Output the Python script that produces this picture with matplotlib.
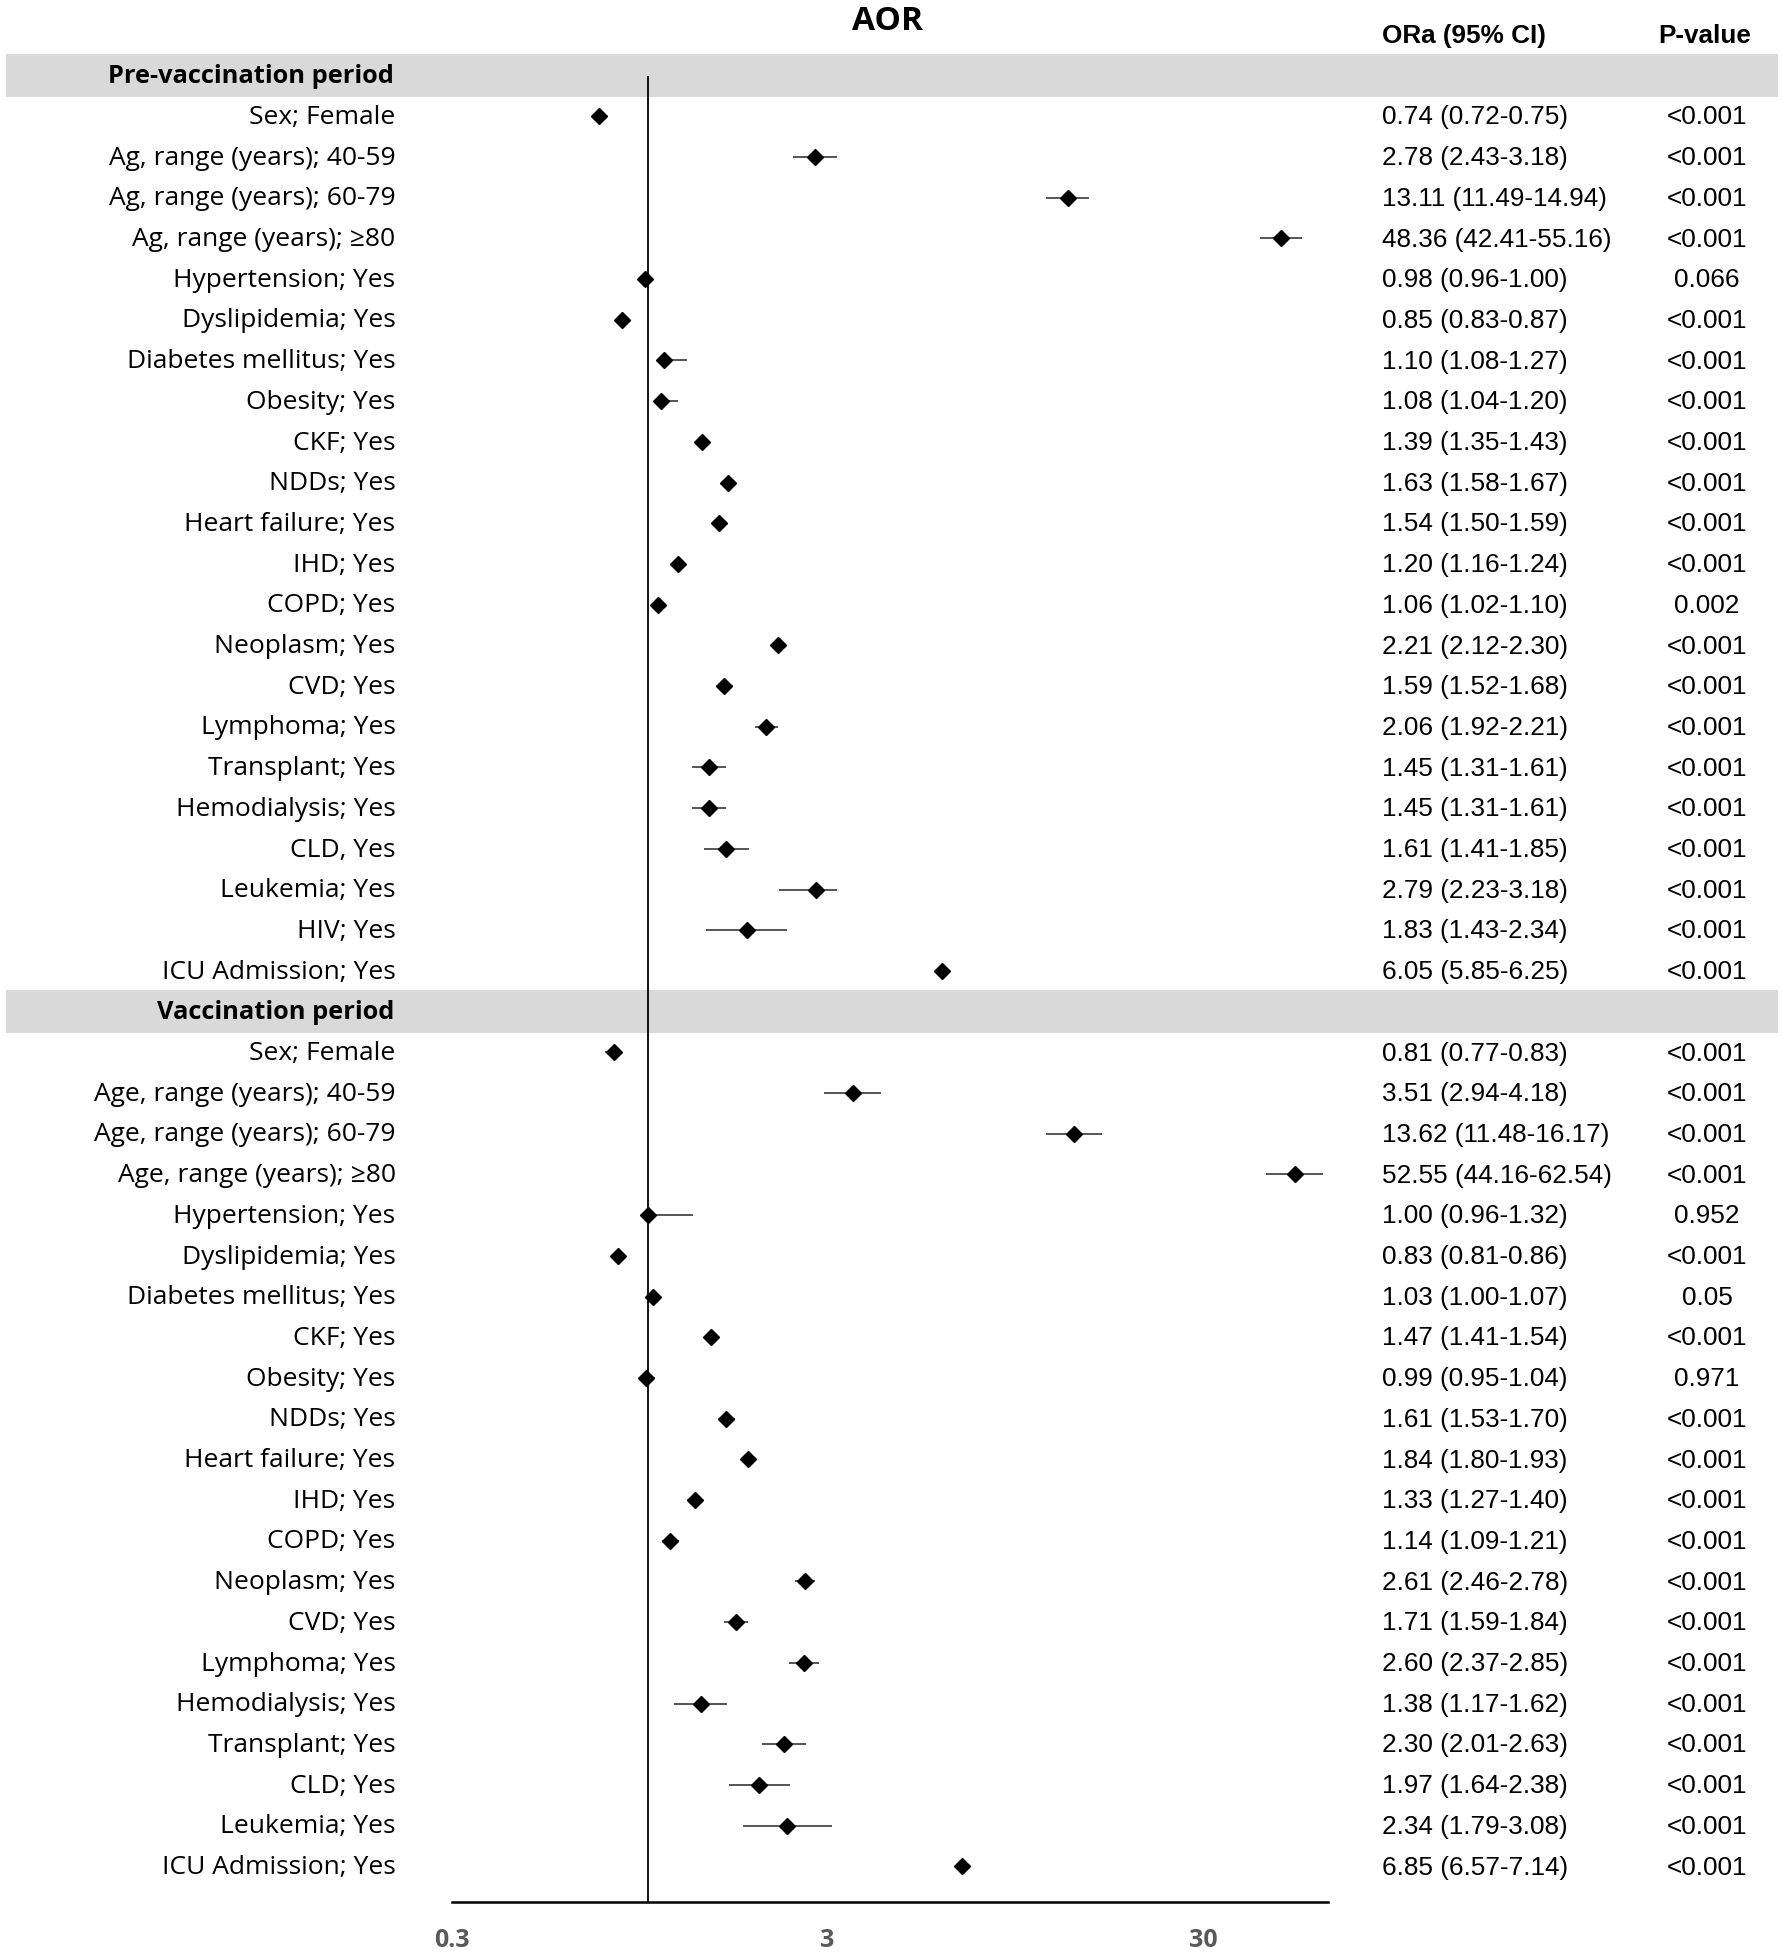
import matplotlib
matplotlib.use("Agg")
import matplotlib.pyplot as plt
import matplotlib.transforms as mtransforms
from matplotlib.patches import Rectangle
from matplotlib.ticker import NullLocator

# ---- data ----
labels_pre = ["Sex; Female", "Ag, range (years); 40-59", "Ag, range (years); 60-79",
              "Ag, range (years); ≥80", "Hypertension; Yes", "Dyslipidemia; Yes",
              "Diabetes mellitus; Yes", "Obesity; Yes", "CKF; Yes", "NDDs; Yes",
              "Heart failure; Yes", "IHD; Yes", "COPD; Yes", "Neoplasm; Yes", "CVD; Yes",
              "Lymphoma; Yes", "Transplant; Yes", "Hemodialysis; Yes", "CLD, Yes",
              "Leukemia; Yes", "HIV; Yes", "ICU Admission; Yes"]
or_pre = [0.74, 2.78, 13.11, 48.36, 0.98, 0.85, 1.10, 1.08, 1.39, 1.63, 1.54,
          1.20, 1.06, 2.21, 1.59, 2.06, 1.45, 1.45, 1.61, 2.79, 1.83, 6.05]
lo_pre = [0.72, 2.43, 11.49, 42.41, 0.96, 0.83, 1.08, 1.04, 1.35, 1.58, 1.50,
          1.16, 1.02, 2.12, 1.52, 1.92, 1.31, 1.31, 1.41, 2.23, 1.43, 5.85]
hi_pre = [0.75, 3.18, 14.94, 55.16, 1.00, 0.87, 1.27, 1.20, 1.43, 1.67, 1.59,
          1.24, 1.10, 2.30, 1.68, 2.21, 1.61, 1.61, 1.85, 3.18, 2.34, 6.25]
p_pre = ["<0.001", "<0.001", "<0.001", "<0.001", "0.066", "<0.001", "<0.001",
         "<0.001", "<0.001", "<0.001", "<0.001", "<0.001", "0.002", "<0.001",
         "<0.001", "<0.001", "<0.001", "<0.001", "<0.001", "<0.001", "<0.001", "<0.001"]

labels_vac = ["Sex; Female", "Age, range (years); 40-59", "Age, range (years); 60-79",
              "Age, range (years); ≥80", "Hypertension; Yes", "Dyslipidemia; Yes",
              "Diabetes mellitus; Yes", "CKF; Yes", "Obesity; Yes", "NDDs; Yes",
              "Heart failure; Yes", "IHD; Yes", "COPD; Yes", "Neoplasm; Yes", "CVD; Yes",
              "Lymphoma; Yes", "Hemodialysis; Yes", "Transplant; Yes", "CLD; Yes",
              "Leukemia; Yes", "ICU Admission; Yes"]
or_vac = [0.81, 3.51, 13.62, 52.55, 1.00, 0.83, 1.03, 1.47, 0.99, 1.61, 1.84,
          1.33, 1.14, 2.61, 1.71, 2.60, 1.38, 2.30, 1.97, 2.34, 6.85]
lo_vac = [0.77, 2.94, 11.48, 44.16, 0.96, 0.81, 1.00, 1.41, 0.95, 1.53, 1.80,
          1.27, 1.09, 2.46, 1.59, 2.37, 1.17, 2.01, 1.64, 1.79, 6.57]
hi_vac = [0.83, 4.18, 16.17, 62.54, 1.32, 0.86, 1.07, 1.54, 1.04, 1.70, 1.93,
          1.40, 1.21, 2.78, 1.84, 2.85, 1.62, 2.63, 2.38, 3.08, 7.14]
p_vac = ["<0.001", "<0.001", "<0.001", "<0.001", "0.952", "<0.001", "0.05",
         "<0.001", "0.971", "<0.001", "<0.001", "<0.001", "<0.001", "<0.001",
         "<0.001", "<0.001", "<0.001", "<0.001", "<0.001", "<0.001", "<0.001"]

section_titles = ["Pre-vaccination period", "Vaccination period"]
x_ticks = [0.3, 3, 30]
x_ticklabels = ["0.3", "3", "30"]

# ---- layout (pixels of a 1784x1955 canvas) ----
W, H = 1784, 1955
row_h = 40.7
y0 = 75.5          # centre of first header band
axis_y = 1902
label_font = "Open Sans"
num_font = "Liberation Sans"
num_size = 18.8

fig = plt.figure(figsize=(W / 100, H / 100), dpi=100)
ax = fig.add_axes([451.7 / W, 1 - axis_y / H, 876 / W, axis_y / H])
ax.set_xscale("log")
ax.set_xlim(0.3, 64.4)
ax.set_ylim((axis_y - y0) / row_h, -y0 / row_h)

blend = mtransforms.blended_transform_factory(fig.transFigure, ax.transData)

# row positions
hdr_pre = 0
rows_pre = list(range(1, len(labels_pre) + 1))
hdr_vac = len(labels_pre) + 1
rows_vac = list(range(hdr_vac + 1, hdr_vac + 1 + len(labels_vac)))

# grey section bands
for yy, title in zip([hdr_pre, hdr_vac], section_titles):
    ax.add_patch(Rectangle((6 / W, yy - 0.52), 1772 / W, 1.04, transform=blend,
                           facecolor="#d9d9d9", edgecolor="none", clip_on=False, zorder=0))
    ax.text(394 / W, yy + 0.03, title, transform=blend, ha="right", va="center",
            fontsize=18.3, fontweight="bold", family=label_font, color="black")

# reference line at 1
ax.vlines(1, hdr_pre, (axis_y - y0) / row_h, color="black", lw=1.3, zorder=2)

for labels, ors, los, his, ps, rows in [
        (labels_pre, or_pre, lo_pre, hi_pre, p_pre, rows_pre),
        (labels_vac, or_vac, lo_vac, hi_vac, p_vac, rows_vac)]:
    ax.hlines(rows, los, his, color="#555555", lw=1.4, zorder=3)
    ax.plot(ors, rows, ls="none", marker="D", ms=8, color="black", zorder=4)
    for lab, o, l, h, p, r in zip(labels, ors, los, his, ps, rows):
        ax.text(395.5 / W, r + 0.03, lab, transform=blend, ha="right", va="center",
                fontsize=19, family=label_font)
        ax.text(1382 / W, r + 0.03, f"{o:.2f} ({l:.2f}-{h:.2f})", transform=blend,
                ha="left", va="center", fontsize=num_size, family=num_font)
        ax.text(1707 / W, r + 0.03, p, transform=blend, ha="center", va="center",
                fontsize=num_size, family=num_font)

# column headers
fig.text(888 / W, 1 - 21 / H, "AOR", ha="center", va="center",
         fontsize=24, fontweight="bold", family=label_font)
fig.text(1382 / W, 1 - 36 / H, "ORa (95% CI)", ha="left", va="center",
         fontsize=num_size, fontweight="bold", family=num_font)
fig.text(1705 / W, 1 - 36 / H, "P-value", ha="center", va="center",
         fontsize=num_size, fontweight="bold", family=num_font)

# axis styling
for side in ["top", "left", "right"]:
    ax.spines[side].set_visible(False)
ax.spines["bottom"].set_linewidth(1.8)
ax.set_yticks([])
ax.set_xticks(x_ticks)
ax.set_xticklabels(x_ticklabels)
ax.xaxis.set_minor_locator(NullLocator())
ax.tick_params(axis="x", length=0, pad=19, labelsize=18, labelcolor="#595959")
for t in ax.get_xticklabels():
    t.set_fontweight("bold")
    t.set_family(label_font)

fig.savefig("out.png", dpi=100)
